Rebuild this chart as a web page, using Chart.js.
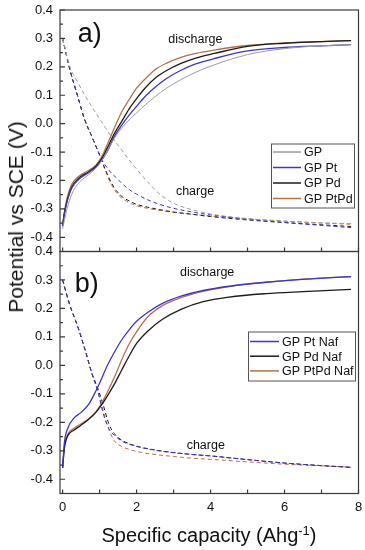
<!DOCTYPE html>
<html>
<head>
<meta charset="utf-8">
<script src="https://cdn.jsdelivr.net/npm/chart.js@4.4.0/dist/chart.umd.min.js"></script>
<style>
  html, body { margin: 0; padding: 0; background: #fff; }
  #wrap { position: relative; width: 365px; height: 550px; overflow: hidden;
          font-family: "Liberation Sans", Arial, sans-serif; color: #111; }
  #boxA { position: absolute; left: 0; top: 0; }
  #boxB { position: absolute; left: 0; top: 240px; }
  .ytitle { position: absolute; left: 16px; top: 217px; white-space: nowrap;
            transform: translate(-50%, -50%) rotate(-90deg); font-size: 21px; }
  .xtitle { position: absolute; left: 209px; top: 535px; white-space: nowrap;
            transform: translate(-50%, -50%); font-size: 20px; }
  .xtitle sup { font-size: 13px; }
</style>
</head>
<body>
<div id="wrap">
  <div id="boxA"><canvas id="chartA" width="365" height="260"></canvas></div>
  <div id="boxB"><canvas id="chartB" width="365" height="310"></canvas></div>
  <div class="ytitle">Potential vs SCE (V)</div>
  <div class="xtitle">Specific capacity (Ahg<sup>-1</sup>)</div>
</div>
<script>
/* ─────────── datos ─────────── */
const xTickLabels = [0, 2, 4, 6, 8];
const yTickLabels = [-0.4, -0.3, -0.2, -0.1, 0, 0.1, 0.2, 0.3, 0.4];
const xTickMarks  = [0, 1, 2, 3, 4, 5, 6, 7, 8];
const yTickMarks  = [-0.45, -0.4, -0.35, -0.3, -0.25, -0.2, -0.15, -0.1, -0.05, 0,
                     0.05, 0.1, 0.15, 0.2, 0.25, 0.3, 0.35, 0.4];

// panel a) descarga
const aDisX     = [0, 0.05, 0.12, 0.25, 0.45, 0.7, 0.9, 1.05, 1.2, 1.4, 1.6, 1.8, 2.0, 2.25, 2.5, 2.8, 3.2, 3.6, 4.1, 5, 6, 7, 7.8];
const aDisGP    = [-0.37, -0.34, -0.3, -0.248, -0.207, -0.18, -0.157, -0.132, -0.1, -0.052, -0.015, 0.013, 0.038, 0.068, 0.095, 0.124, 0.155, 0.181, 0.207, 0.243, 0.264, 0.274, 0.278];
const aDisPt    = [-0.36, -0.318, -0.275, -0.226, -0.195, -0.173, -0.153, -0.13, -0.1, -0.045, -0.005, 0.03, 0.061, 0.098, 0.128, 0.158, 0.188, 0.21, 0.229, 0.256, 0.268, 0.274, 0.278];
const aDisPd    = [-0.36, -0.315, -0.272, -0.222, -0.19, -0.17, -0.15, -0.125, -0.088, -0.035, 0.008, 0.052, 0.088, 0.128, 0.16, 0.186, 0.212, 0.231, 0.247, 0.272, 0.283, 0.289, 0.292];
const aDisPtPd  = [-0.36, -0.31, -0.262, -0.213, -0.184, -0.165, -0.146, -0.118, -0.076, -0.015, 0.042, 0.085, 0.125, 0.16, 0.19, 0.212, 0.233, 0.247, 0.259, 0.275, 0.284, 0.289, 0.292];

// panel a) carga
const aChX      = [0, 0.2, 0.4, 0.6, 0.8, 1.0, 1.15, 1.3, 1.45, 1.6, 1.8, 2.0, 2.3, 2.6, 3.0, 3.5, 4.0, 5, 6, 7, 7.8];
const aChGP     = [0.3, 0.2, 0.148, 0.1, 0.057, 0.017, -0.013, -0.042, -0.067, -0.093, -0.128, -0.16, -0.205, -0.245, -0.28, -0.303, -0.318, -0.334, -0.343, -0.349, -0.352];
const aChPt     = [0.3, 0.189, 0.1, 0.013, -0.048, -0.11, -0.145, -0.171, -0.19, -0.21, -0.232, -0.248, -0.268, -0.283, -0.298, -0.311, -0.321, -0.336, -0.348, -0.358, -0.366];
const aChPd     = [0.3, 0.189, 0.1, 0.013, -0.048, -0.11, -0.16, -0.203, -0.235, -0.256, -0.272, -0.284, -0.294, -0.302, -0.311, -0.319, -0.327, -0.339, -0.348, -0.356, -0.362];
const aChPtPd   = [0.3, 0.189, 0.1, 0.013, -0.048, -0.11, -0.163, -0.21, -0.242, -0.262, -0.278, -0.289, -0.298, -0.305, -0.312, -0.319, -0.325, -0.335, -0.343, -0.35, -0.354];

// panel b) descarga
const bDisX     = [0, 0.05, 0.15, 0.3, 0.5, 0.7, 0.9, 1.05, 1.2, 1.4, 1.6, 1.8, 2.0, 2.3, 2.7, 3.2, 3.8, 4.5, 5.5, 6.5, 7.8];
const bDisPt    = [-0.36, -0.27, -0.218, -0.186, -0.165, -0.138, -0.09, -0.048, -0.003, 0.046, 0.09, 0.125, 0.155, 0.186, 0.218, 0.243, 0.263, 0.278, 0.292, 0.302, 0.312];
const bDisPd    = [-0.36, -0.29, -0.245, -0.228, -0.21, -0.19, -0.165, -0.14, -0.11, -0.066, -0.016, 0.033, 0.077, 0.12, 0.162, 0.197, 0.224, 0.24, 0.252, 0.259, 0.267];
const bDisPtPd  = [-0.36, -0.285, -0.24, -0.222, -0.205, -0.188, -0.163, -0.134, -0.097, -0.042, 0.02, 0.075, 0.118, 0.17, 0.21, 0.238, 0.26, 0.277, 0.292, 0.303, 0.312];

// panel b) carga
const bChX      = [0, 0.2, 0.4, 0.6, 0.8, 0.95, 1.1, 1.25, 1.4, 1.6, 1.8, 2.1, 2.5, 3.0, 3.5, 4.0, 5, 6, 7, 7.8];
const bChPt     = [0.3, 0.21, 0.14, 0.058, -0.032, -0.09, -0.17, -0.222, -0.246, -0.266, -0.277, -0.288, -0.298, -0.307, -0.313, -0.318, -0.331, -0.343, -0.352, -0.358];
const bChPd     = [0.3, 0.21, 0.14, 0.058, -0.03, -0.08, -0.14, -0.205, -0.24, -0.263, -0.275, -0.287, -0.297, -0.306, -0.313, -0.318, -0.331, -0.343, -0.352, -0.358];
const bChPtPd   = [0.3, 0.21, 0.14, 0.058, -0.032, -0.09, -0.16, -0.225, -0.265, -0.285, -0.295, -0.305, -0.313, -0.32, -0.326, -0.33, -0.339, -0.347, -0.353, -0.358];

/* ─────────── estilo ─────────── */
const FONT = '"Liberation Sans", Arial, sans-serif';
const C_GP = '#9c9c9c', C_PT = '#3d35c9', C_PD = '#1c1c1c', C_PTPD = '#b3714c';
const xMin = -0.07, xMax = 8, yMin = -0.45, yMax = 0.4;

function pts(xs, ys) {
  return xs.map((x, i) => ({ x: x, y: ys[i] }));
}
function serie(label, xs, ys, color, dashed, width) {
  return {
    label: label,
    data: pts(xs, ys),
    borderColor: color,
    backgroundColor: color,
    borderWidth: width || (dashed ? 1 : 1.3),
    borderDash: dashed ? [4, 3] : [],
    pointRadius: 0,
    cubicInterpolationMode: 'monotone',
    fill: false
  };
}

/* ─────────── plugins ─────────── */
const framePlugin = {
  id: 'frame',
  afterDatasetsDraw(chart) {
    const { ctx, chartArea: a, scales: { x, y } } = chart;
    ctx.save();
    ctx.strokeStyle = '#3a3a3a';
    ctx.lineWidth = 1.2;
    ctx.strokeRect(a.left, a.top, a.right - a.left, a.bottom - a.top);
    ctx.beginPath();
    xTickMarks.forEach(v => {
      const px = x.getPixelForValue(v);
      ctx.moveTo(px, a.bottom);
      ctx.lineTo(px, a.bottom - 4);
    });
    yTickMarks.forEach((v, i) => {
      const py = y.getPixelForValue(v);
      const len = (i % 2 === 1) ? 5 : 3;
      ctx.moveTo(a.left, py);
      ctx.lineTo(a.left + len, py);
    });
    ctx.stroke();
    ctx.restore();
  }
};

const boxLegend = {
  id: 'boxLegend',
  afterDraw(chart, args, o) {
    const { ctx, chartArea: a } = chart;
    const items = chart.data.datasets.filter(d => !d.borderDash.length);
    const left = a.right - o.right - o.width, top = a.top + o.top;
    ctx.save();
    ctx.fillStyle = '#fff';
    ctx.fillRect(left, top, o.width, o.height);
    ctx.strokeStyle = '#555';
    ctx.lineWidth = 1;
    ctx.strokeRect(left + 0.5, top + 0.5, o.width, o.height);
    ctx.font = '12.5px ' + FONT;
    ctx.textBaseline = 'middle';
    items.forEach((d, i) => {
      const yy = top + o.first + i * o.row;
      ctx.strokeStyle = d.borderColor;
      ctx.lineWidth = 1.5;
      ctx.beginPath();
      ctx.moveTo(left + 2, yy);
      ctx.lineTo(left + o.line, yy);
      ctx.stroke();
      ctx.fillStyle = '#111';
      ctx.fillText(d.label, left + o.line + 3, yy + 1);
    });
    ctx.restore();
  }
};

const notes = {
  id: 'notes',
  afterDraw(chart, args, o) {
    const { ctx, scales: { x, y } } = chart;
    ctx.save();
    ctx.fillStyle = '#111';
    ctx.textBaseline = 'alphabetic';
    o.items.forEach(t => {
      ctx.font = t.size + 'px ' + FONT;
      ctx.textAlign = t.align || 'center';
      ctx.fillText(t.text, x.getPixelForValue(t.x), y.getPixelForValue(t.y));
    });
    ctx.restore();
  }
};

function yScale() {
  return {
    type: 'linear', min: yMin, max: yMax,
    grid: { display: false, drawTicks: false },
    border: { display: false },
    afterBuildTicks: s => { s.ticks = yTickLabels.map(v => ({ value: v })); },
    afterFit: s => { s.width = 60; s.paddingTop = 0; s.paddingBottom = 0; },
    ticks: {
      padding: 7, color: '#111', font: { size: 13, family: FONT },
      callback: v => (Math.abs(v) < 1e-9 ? 0 : v).toFixed(1)
    }
  };
}

function baseOptions(padding, showX, legendOpts, noteItems) {
  return {
    responsive: false,
    animation: false,
    devicePixelRatio: 1,
    layout: { padding: padding },
    plugins: {
      legend: { display: false },
      tooltip: { enabled: false },
      boxLegend: legendOpts,
      notes: { items: noteItems }
    },
    scales: {
      x: {
        type: 'linear', min: xMin, max: xMax,
        grid: { display: false, drawTicks: false },
        border: { display: false },
        afterBuildTicks: s => { s.ticks = xTickLabels.map(v => ({ value: v })); },
        afterFit: s => { s.height = showX ? 56.5 : 0; s.paddingLeft = 0; s.paddingRight = 0; },
        ticks: { display: showX, padding: 6, color: '#111', font: { size: 13, family: FONT } }
      },
      y: yScale()
    }
  };
}

/* ─────────── panel a ─────────── */
new Chart(document.getElementById('chartA'), {
  type: 'line',
  data: {
    datasets: [
      serie('GP',      aDisX, aDisGP,   C_GP,   false, 1),
      serie('GP Pt',   aDisX, aDisPt,   C_PT,   false),
      serie('GP Pd',   aDisX, aDisPd,   C_PD,   false),
      serie('GP PtPd', aDisX, aDisPtPd, C_PTPD, false),
      serie('GP c',      aChX, aChGP,   C_GP,   true),
      serie('GP Pt c',   aChX, aChPt,   C_PT,   true),
      serie('GP Pd c',   aChX, aChPd,   C_PD,   true),
      serie('GP PtPd c', aChX, aChPtPd, C_PTPD, true)
    ]
  },
  options: baseOptions({ top: 10, right: 6.5, bottom: 8.5, left: 0 }, false,
    { right: 4.5, top: 133.5, width: 83, height: 64, first: 8.5, row: 15.5, line: 30 },
    [
      { text: 'a)', x: 0.41, y: 0.286, size: 27, align: 'left' },
      { text: 'discharge', x: 3.59, y: 0.283, size: 12.5 },
      { text: 'charge', x: 3.58, y: -0.25, size: 12.5 }
    ]),
  plugins: [framePlugin, boxLegend, notes]
});

/* ─────────── panel b ─────────── */
new Chart(document.getElementById('chartB'), {
  type: 'line',
  data: {
    datasets: [
      serie('GP Pt Naf',   bDisX, bDisPt,   C_PT,   false),
      serie('GP Pd Naf',   bDisX, bDisPd,   C_PD,   false),
      serie('GP PtPd Naf', bDisX, bDisPtPd, C_PTPD, false),
      serie('GP Pt Naf c',   bChX, bChPt,   C_PT,   true),
      serie('GP Pd Naf c',   bChX, bChPd,   C_PD,   true),
      serie('GP PtPd Naf c', bChX, bChPtPd, C_PTPD, true)
    ]
  },
  options: baseOptions({ top: 11.5, right: 6.5, bottom: 0, left: 0 }, true,
    { right: 3.5, top: 80, width: 107, height: 49, first: 10, row: 14.7, line: 31 },
    [
      { text: 'b)', x: 0.33, y: 0.259, size: 27, align: 'left' },
      { text: 'discharge', x: 3.91, y: 0.314, size: 12.5 },
      { text: 'charge', x: 3.87, y: -0.292, size: 12.5 }
    ]),
  plugins: [framePlugin, boxLegend, notes]
});
</script>
</body>
</html>
